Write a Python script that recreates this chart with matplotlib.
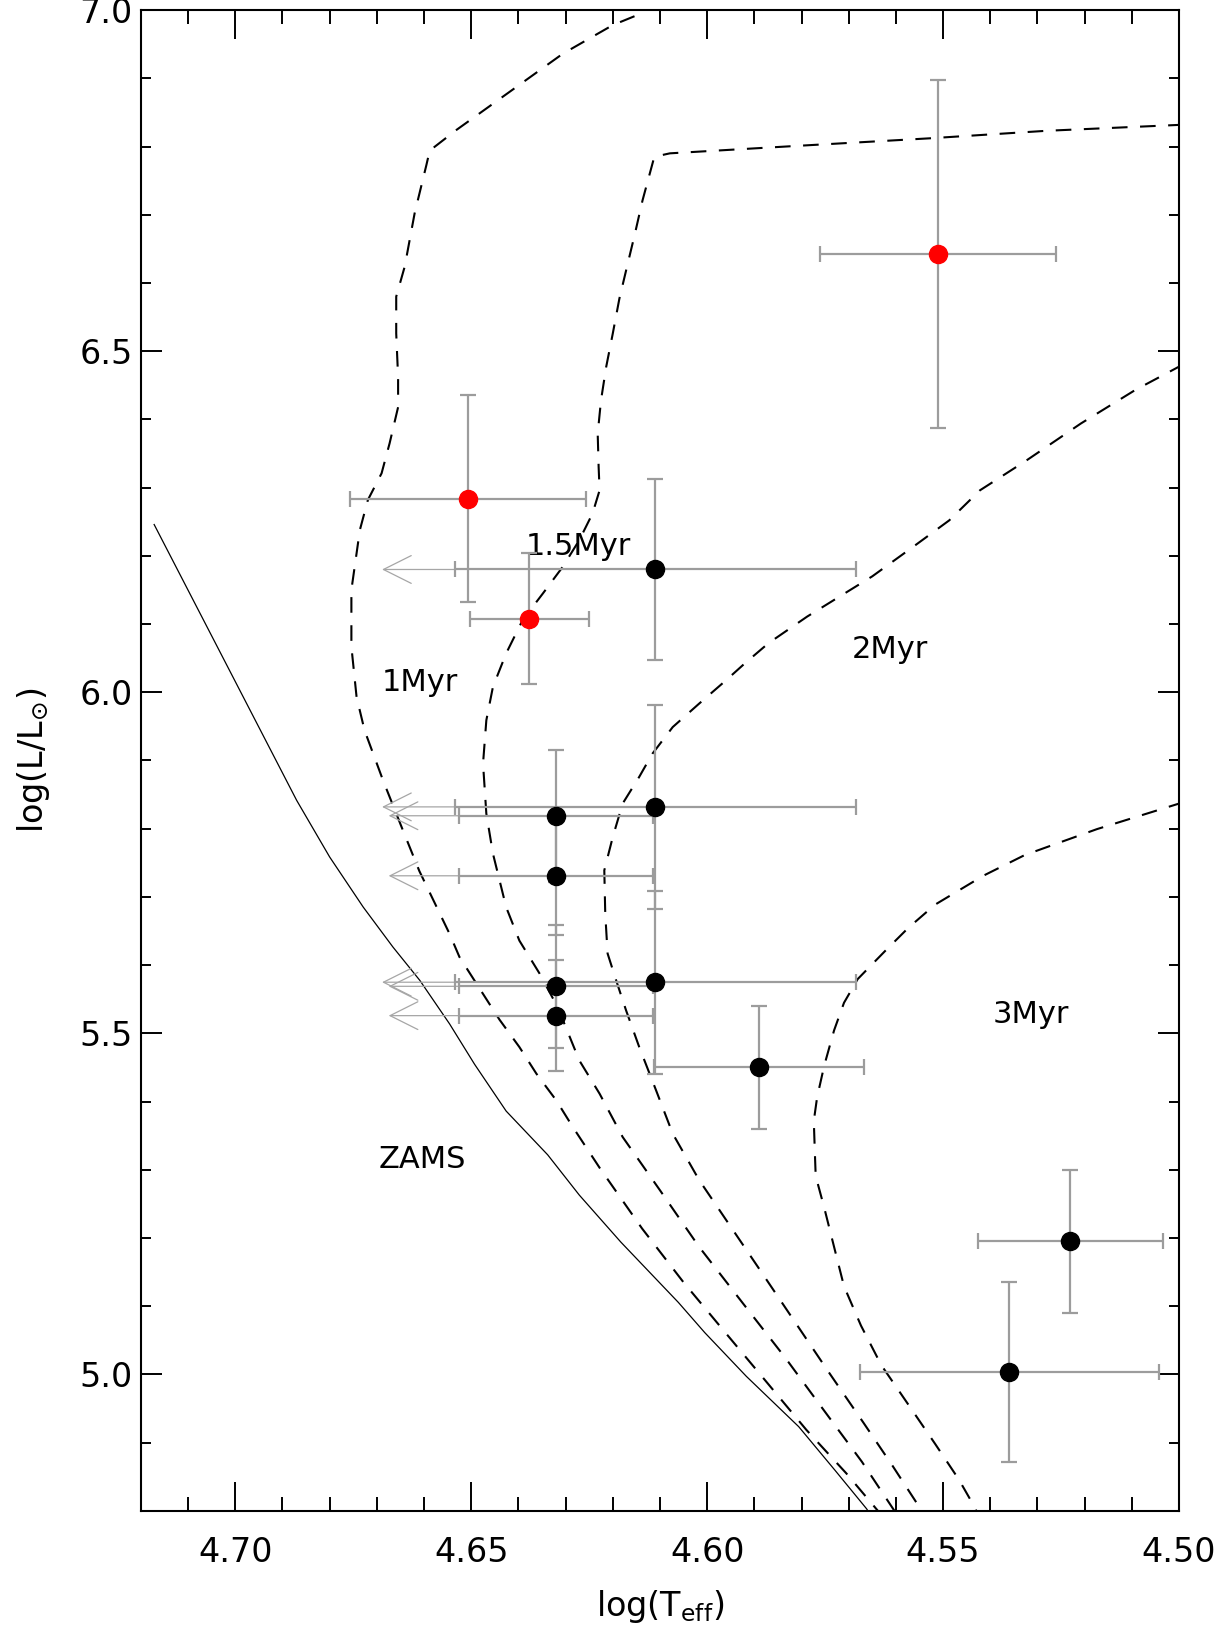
import numpy as np
import matplotlib
matplotlib.use("Agg")
import matplotlib.pyplot as plt
from matplotlib.patches import ArrowStyle
from matplotlib.ticker import MultipleLocator, FixedLocator, FormatStrFormatter

plt.rcParams['font.family'] = ['DejaVu Sans']
plt.rcParams['mathtext.default'] = 'regular'
plt.rcParams['mathtext.fontset'] = 'dejavusans'

# ---------------- data ----------------
# ZAMS (solid)
zams_logT = [4.7172, 4.7100, 4.7030, 4.6950, 4.6870, 4.6800, 4.6729, 4.6666, 4.6609,
             4.6546, 4.6493, 4.6426, 4.6338, 4.6271, 4.6183, 4.6061, 4.6005, 4.5917,
             4.5806, 4.5729, 4.5662, 4.5650]
zams_logL = [6.2459, 6.1495, 6.0558, 5.9487, 5.8416, 5.7585, 5.6852, 5.6266, 5.5777,
             5.5140, 5.4548, 5.3861, 5.3220, 5.2630, 5.1941, 5.1056, 5.0613, 4.9973,
             4.9235, 4.8595, 4.8030, 4.7900]

# 1 Myr isochrone
iso1_logT = [4.6154, 4.6200, 4.6306, 4.6419, 4.6532, 4.6588, 4.6595, 4.6620, 4.6641,
             4.6659, 4.6659, 4.6655, 4.6655, 4.6673, 4.6690, 4.6719, 4.6736, 4.6754,
             4.6754, 4.6743, 4.6726, 4.6687, 4.6645, 4.6610, 4.6546, 4.6525, 4.6489,
             4.6440, 4.6398, 4.6362, 4.6320, 4.6285, 4.6227, 4.6138, 4.6050, 4.5961,
             4.5873, 4.5790, 4.5705, 4.5638, 4.5625]
iso1_logL = [6.9910, 6.9780, 6.9360, 6.8800, 6.8240, 6.7940, 6.7730, 6.7020, 6.6240,
             6.5800, 6.5260, 6.4620, 6.4180, 6.3650, 6.3210, 6.2820, 6.2380, 6.1500,
             6.0670, 5.9930, 5.9440, 5.8710, 5.7980, 5.7380, 5.6460, 5.6120, 5.5730,
             5.5200, 5.4800, 5.4410, 5.4020, 5.3630, 5.3020, 5.2140, 5.1350, 5.0610,
             4.9880, 4.9190, 4.8550, 4.8000, 4.7900]

# 1.5 Myr isochrone
iso15_logT = [4.4990, 4.5282, 4.5529, 4.5808, 4.6079, 4.6112, 4.6137, 4.6153, 4.6170,
              4.6186, 4.6200, 4.6214, 4.6225, 4.6232, 4.6230, 4.6228, 4.6243, 4.6271,
              4.6306, 4.6348, 4.6391, 4.6426, 4.6454, 4.6468, 4.6475, 4.6468, 4.6454,
              4.6426, 4.6398, 4.6355, 4.6317, 4.6271, 4.6228, 4.6179, 4.6100, 4.6017,
              4.5925, 4.5835, 4.5750, 4.5672, 4.5603, 4.5592]
iso15_logL = [6.8320, 6.8230, 6.8120, 6.8010, 6.7900, 6.7850, 6.7210, 6.6725, 6.6236,
              6.5772, 6.5260, 6.4770, 6.4280, 6.3790, 6.3300, 6.2960, 6.2620, 6.2230,
              6.1840, 6.1450, 6.1060, 6.0570, 6.0080, 5.9590, 5.8955, 5.8220, 5.7635,
              5.6850, 5.6360, 5.5875, 5.5386, 5.4604, 5.4116, 5.3480, 5.2700, 5.1870,
              5.1050, 5.0250, 4.9450, 4.8720, 4.8000, 4.7900]

# 2 Myr isochrone
iso2_logT = [4.4990, 4.5093, 4.5208, 4.5323, 4.5422, 4.5487, 4.5560, 4.5650, 4.5788,
             4.5870, 4.5920, 4.5960, 4.6017, 4.6073, 4.6116, 4.6144, 4.6179, 4.6200,
             4.6218, 4.6216, 4.6211, 4.6193, 4.6172, 4.6144, 4.6108, 4.6073, 4.6017,
             4.5885, 4.5813, 4.5741, 4.5668, 4.5607, 4.5545, 4.5535]
iso2_logL = [6.4810, 6.4430, 6.3940, 6.3400, 6.2960, 6.2520, 6.2150, 6.1700, 6.1110,
             6.0720, 6.0425, 6.0176, 5.9834, 5.9490, 5.9100, 5.8760, 5.8370, 5.7880,
             5.7390, 5.6755, 5.6170, 5.5780, 5.5340, 5.4800, 5.4160, 5.3530, 5.2850,
             5.1500, 5.0760, 5.0020, 4.9285, 4.8660, 4.8000, 4.7900]

# 3 Myr isochrone
iso3_logT = [4.4990, 4.5174, 4.5327, 4.5415, 4.5517, 4.5574, 4.5624, 4.5681, 4.5710,
             4.5731, 4.5752, 4.5767, 4.5774, 4.5772, 4.5770, 4.5752, 4.5731, 4.5710,
             4.5674, 4.5631, 4.5574, 4.5517, 4.5467, 4.5431, 4.5425]
iso3_logL = [5.8390, 5.7994, 5.7614, 5.7310, 5.6887, 5.6545, 5.6200, 5.5796, 5.5449,
             5.5045, 5.4525, 5.4063, 5.3717, 5.3300, 5.2909, 5.2447, 5.1869, 5.1293,
             5.0716, 5.0137, 4.9562, 4.8984, 4.8465, 4.8030, 4.7900]

# isochrone labels
label_text = ["1Myr", "1.5Myr", "2Myr", "3Myr", "ZAMS"]
label_logT = [4.6609, 4.6274, 4.5612, 4.5313, 4.6603]
label_logL = [6.015, 6.213, 6.062, 5.528, 5.315]

# stars (black)
blk_logT = [4.611, 4.611, 4.632, 4.632, 4.632, 4.611, 4.632, 4.589, 4.523, 4.536]
blk_logL = [6.180, 5.832, 5.819, 5.731, 5.569, 5.575, 5.526, 5.450, 5.195, 5.004]
blk_xerr = [0.0425, 0.0425, 0.0205, 0.0205, 0.0205, 0.0425, 0.0205, 0.0223, 0.0197, 0.0317]
blk_yerr = [0.132, 0.150, 0.097, 0.0875, 0.090, 0.134, 0.081, 0.090, 0.105, 0.132]
# arrow tips (lower limits on Teff); nan = no arrow
blk_arrow = [4.6689, 4.6689, 4.6675, 4.6675, 4.6675, 4.6689, 4.6675, np.nan, np.nan, np.nan]

# stars (red)
red_logT = [4.551, 4.6507, 4.6377]
red_logL = [6.642, 6.284, 6.108]
red_xerr = [0.025, 0.025, 0.0126]
red_yerr = [0.255, 0.152, 0.096]

xticks_major = [4.70, 4.65, 4.60, 4.55, 4.50]
yticks_major = [5.0, 5.5, 6.0, 6.5, 7.0]

# ---------------- figure ----------------
fig = plt.figure(figsize=(12.32, 16.25), dpi=100)
ax = fig.add_axes([0.1144, 0.0702, 0.8426, 0.9236])

dash = (0, (7.5, 6.0))
iso_kw = dict(color='black', lw=1.5, linestyle=dash, zorder=2)
ax.plot(zams_logT, zams_logL, color='black', lw=0.9, zorder=2)
ax.plot(iso1_logT, iso1_logL, **iso_kw)
ax.plot(iso15_logT, iso15_logL, **iso_kw)
ax.plot(iso2_logT, iso2_logL, **iso_kw)
ax.plot(iso3_logT, iso3_logL, **iso_kw)

for t, x, y in zip(label_text, label_logT, label_logL):
    ax.text(x, y, t, fontsize=22, ha='center', va='center', zorder=3)

ecol = '#9c9c9c'
eb_kw = dict(fmt='none', ecolor=ecol, elinewidth=1.6, capsize=6, capthick=1.6, zorder=4)
ax.errorbar(blk_logT, blk_logL, xerr=blk_xerr, yerr=blk_yerr, **eb_kw)
ax.errorbar(red_logT, red_logL, xerr=red_xerr, yerr=red_yerr, **eb_kw)

astyle = ArrowStyle('->', head_length=2.0, head_width=1.0)
for x, y, xe, tip in zip(blk_logT, blk_logL, blk_xerr, blk_arrow):
    if np.isfinite(tip):
        ax.annotate('', xy=(tip, y), xytext=(x + xe, y),
                    arrowprops=dict(arrowstyle=astyle, color='#a6a6a6', lw=0.9,
                                    shrinkA=0, shrinkB=0, mutation_scale=10),
                    zorder=3)

ax.plot(blk_logT, blk_logL, 'o', color='black', ms=13, zorder=5)
ax.plot(red_logT, red_logL, 'o', color='red', ms=13, zorder=5)

ax.set_xlim(4.72, 4.50)
ax.set_ylim(4.80, 7.0)

ax.xaxis.set_major_locator(FixedLocator(xticks_major))
ax.xaxis.set_minor_locator(MultipleLocator(0.01))
ax.yaxis.set_major_locator(FixedLocator(yticks_major))
ax.yaxis.set_minor_locator(MultipleLocator(0.1))
ax.xaxis.set_major_formatter(FormatStrFormatter('%.2f'))
ax.yaxis.set_major_formatter(FormatStrFormatter('%.1f'))

ax.tick_params(axis='both', which='both', direction='in', top=True, right=True,
               width=1.4, color='black')
ax.tick_params(axis='x', which='major', length=21, pad=18, labelsize=24)
ax.tick_params(axis='x', which='minor', length=10)
ax.tick_params(axis='y', which='major', length=15, pad=6, labelsize=24)
ax.tick_params(axis='y', which='minor', length=7.5)
for sp in ax.spines.values():
    sp.set_linewidth(1.5)

ax.set_xlabel(r'log(T$_{eff}$)', fontsize=24, labelpad=14)
ax.set_ylabel(r'log(L/L$_{\odot}$)', fontsize=24, labelpad=20)

fig.savefig('out.png', dpi=100)
